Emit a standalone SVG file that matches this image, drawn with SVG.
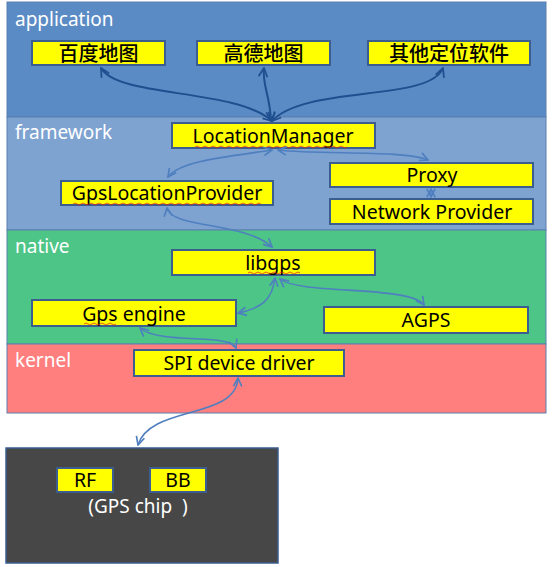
<svg xmlns="http://www.w3.org/2000/svg" width="554" height="567" viewBox="0 0 554 567">
<defs>
<style>
.layer{stroke:#5a80b0;stroke-width:1}
.lbl{font-family:"Noto Sans","Open Sans","DejaVu Sans",sans-serif;font-size:19px;fill:#ffffff}
.box{fill:#ffff00;stroke:#3b5d8f;stroke-width:2}
.t{font-family:"Noto Sans","Open Sans","DejaVu Sans",sans-serif;font-size:19.5px;fill:#000000;text-anchor:middle}
.cjk{font-family:"Noto Sans CJK SC","Noto Sans",sans-serif;font-size:20px;font-weight:500;fill:#000000;text-anchor:middle}
.dark{fill:none;stroke:#1f4f8f;stroke-width:2;marker-start:url(#ad);marker-end:url(#ad)}
.lite{fill:none;stroke:#4f7fbf;stroke-width:1.6;marker-start:url(#al);marker-end:url(#al)}
.sq{fill:none;stroke:#e03020;stroke-width:0.8}
</style>
<marker id="ad" viewBox="0 0 10 10" refX="9" refY="5" markerWidth="5.5" markerHeight="5.5" orient="auto-start-reverse" markerUnits="strokeWidth">
<path d="M1,1 L9,5 L1,9" fill="none" stroke="#1f4f8f" stroke-width="1.6"/>
</marker>
<marker id="al" viewBox="0 0 10 10" refX="9" refY="5" markerWidth="6.5" markerHeight="6.5" orient="auto-start-reverse" markerUnits="strokeWidth">
<path d="M1,1 L9,5 L1,9" fill="none" stroke="#4f7fbf" stroke-width="1.6"/>
</marker>
</defs>
<rect width="554" height="567" fill="#ffffff"/>
<g id="layer-application"><rect class="layer" x="7" y="2" width="539" height="115" fill="#5b8bc5"/><text class="lbl" x="15" y="26">application</text></g>
<g id="layer-framework"><rect class="layer" x="7" y="117" width="539" height="113" fill="#7ea3d1"/><text class="lbl" x="15" y="139">framework</text></g>
<g id="layer-native"><rect class="layer" x="7" y="230" width="539" height="114" fill="#4cc587"/><text class="lbl" x="15" y="253">native</text></g>
<g id="layer-kernel"><rect class="layer" x="7" y="344" width="539" height="69" fill="#ff7f7f"/><text class="lbl" x="15" y="367">kernel</text></g>
<g id="gps-chip"><rect x="6" y="448" width="272" height="115" fill="#474747" stroke="#3b5d8f" stroke-width="1.5"/><text class="lbl" x="138" y="513" text-anchor="middle" fill="#e8e8e8" font-size="20.5" xml:space="preserve">(GPS chip  )</text></g>
<g id="baidu"><rect class="box" x="32" y="41" width="133" height="24"/><text class="cjk" x="98.5" y="61">百度地图</text></g>
<g id="gaode"><rect class="box" x="197" y="41" width="133" height="24"/><text class="cjk" x="263.5" y="61">高德地图</text></g>
<g id="other"><rect class="box" x="368" y="41" width="162" height="24"/><text class="cjk" x="449" y="61">其他定位软件</text></g>
<g id="locationmanager"><rect class="box" x="172" y="123" width="203" height="25"/><text class="t" x="273" y="143">LocationManager</text><path class="sq" d="M195,147 q2,-2 4,0 t4,0 t4,0 t4,0 t4,0 t4,0 t4,0 t4,0 t4,0 t4,0 t4,0 t4,0 t4,0 t4,0 t4,0 t4,0 t4,0 t4,0 t4,0 t4,0 t4,0 t4,0 t4,0 t4,0 t4,0 t4,0 t4,0 t4,0 t4,0 t4,0 t4,0 t4,0 t4,0 t4,0 t4,0 t4,0 t4,0 t4,0"/></g>
<g id="gpslocationprovider"><rect class="box" x="61" y="181" width="212" height="24"/><text class="t" x="167" y="200">GpsLocationProvider</text><path class="sq" d="M73,204 q2,-2 4,0 t4,0 t4,0 t4,0 t4,0 t4,0 t4,0 t4,0 t4,0 t4,0 t4,0 t4,0 t4,0 t4,0 t4,0 t4,0 t4,0 t4,0 t4,0 t4,0 t4,0 t4,0 t4,0 t4,0 t4,0 t4,0 t4,0 t4,0 t4,0 t4,0 t4,0 t4,0 t4,0 t4,0 t4,0 t4,0 t4,0 t4,0 t4,0 t4,0 t4,0 t4,0 t4,0 t4,0 t4,0 t4,0 t4,0"/></g>
<g id="proxy"><rect class="box" x="330" y="163" width="203" height="24"/><text class="t" x="432" y="182">Proxy</text></g>
<g id="networkprovider"><rect class="box" x="330" y="199" width="203" height="25"/><text class="t" x="432" y="219">Network Provider</text></g>
<g id="libgps"><rect class="box" x="172" y="250" width="203" height="25"/><text class="t" x="273" y="270">libgps</text><path class="sq" d="M248,273 q2,-2 4,0 t4,0 t4,0 t4,0 t4,0 t4,0 t4,0 t4,0 t4,0 t4,0 t4,0 t4,0 t4,0"/></g>
<g id="gpsengine"><rect class="box" x="32" y="300" width="204" height="26"/><text class="t" x="134" y="321">Gps engine</text><path class="sq" d="M84,324 q2,-2 4,0 t4,0 t4,0 t4,0 t4,0 t4,0 t4,0 t4,0"/></g>
<g id="agps"><rect class="box" x="324" y="307" width="204" height="26"/><text class="t" x="426" y="327">AGPS</text></g>
<g id="spi"><rect class="box" x="134" y="350" width="210" height="26"/><text class="t" x="239" y="370">SPI device driver</text></g>
<g id="rf"><rect class="box" x="57" y="468" width="56" height="24" stroke-width="1.5"/><text class="t" x="85" y="487">RF</text></g>
<g id="bb"><rect class="box" x="150" y="468" width="56" height="24" stroke-width="1.5"/><text class="t" x="178" y="487">BB</text></g>
<g id="connectors">
<path class="dark" d="M101,68 C118,98 235,88 272,121"/>
<path class="dark" d="M264,68 C262,85 270,95 271,121"/>
<path class="dark" d="M443,68 C430,102 305,85 272,121"/>
<path class="lite" d="M272,150 C235,156 180,160 168,177"/>
<path class="lite" d="M278,150 C320,155 405,150 428,160"/>
<path class="lite" d="M431,189 L431,197"/>
<path class="lite" d="M167,208 C170,228 245,222 272,247"/>
<path class="lite" d="M275,278 C272,300 262,308 238,313"/>
<path class="lite" d="M280,279 C300,295 410,285 424,305"/>
<path class="lite" d="M140,328 C160,345 230,333 236,348"/>
<path class="lite" d="M238,378 C236,420 150,405 138,445"/>
</g>
</svg>
